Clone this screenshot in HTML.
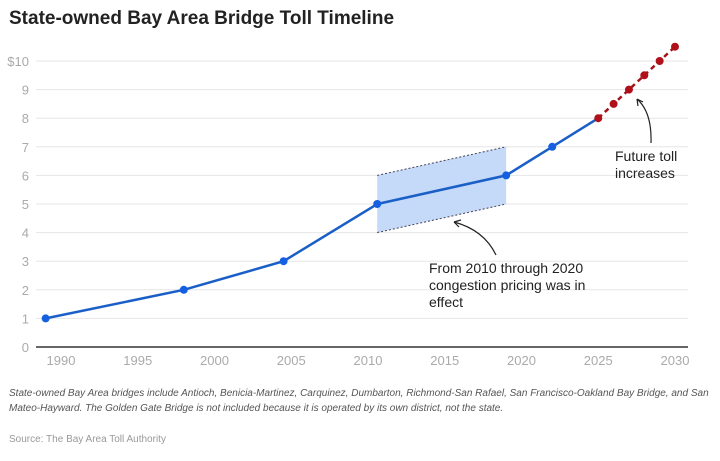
<!DOCTYPE html>
<html><head><meta charset="utf-8"><style>
body{margin:0;background:#fff;font-family:"Liberation Sans",sans-serif}
#wrap{position:relative;width:720px;height:461px;overflow:hidden}
</style></head><body>
<div id="wrap">
<div style="position:absolute;left:9px;top:8px;font-size:19px;font-weight:bold;color:#222">State-owned Bay Area Bridge Toll Timeline</div>
<svg id="chart" width="720" height="461" style="position:absolute;left:0;top:0"></svg>
<div style="position:absolute;left:9px;top:386px;width:700px;font-size:10px;font-style:italic;color:#555;line-height:15px">State-owned Bay Area bridges include Antioch, Benicia-Martinez, Carquinez, Dumbarton, Richmond-San Rafael, San Francisco-Oakland Bay Bridge, and San Mateo-Hayward. The Golden Gate Bridge is not included because it is operated by its own district, not the state.</div>
<div style="position:absolute;left:9px;top:434px;font-size:10px;color:#999">Source: The Bay Area Toll Authority</div>
</div>
<script>
const histYears=[1989,1998,2004.5,2010.6,2019,2022,2025];
const histTolls=[1,2,3,5,6,7,8];
const futYears=[2025,2026,2027,2028,2029,2030];
const futTolls=[8,8.5,9,9.5,10,10.5];
const bandYears=[2010.6,2019];
const bandLow=[4,5];
const bandHigh=[6,7];
const yTicks=[0,1,2,3,4,5,6,7,8,9,10];
const yTickLabels=["0","1","2","3","4","5","6","7","8","9","$10"];
const xTicks=[1990,1995,2000,2005,2010,2015,2020,2025,2030];

const NS="http://www.w3.org/2000/svg";
const svg=document.getElementById('chart');
const X=v=>61+(v-1990)*15.35;
const Y=v=>347-v*28.6;
function mk(t,a){const e=document.createElementNS(NS,t);for(const k in a)e.setAttribute(k,a[k]);svg.appendChild(e);return e;}
yTicks.forEach((t,i)=>{
 if(t>0){const g=mk('line',{x1:36,x2:688,y1:Y(t),y2:Y(t),stroke:'#e6e6e6','stroke-width':1});
 
 }
 const l=mk('text',{x:29,y:Y(t)+5,'text-anchor':'end','font-size':13,fill:'#aaa','font-family':'Liberation Sans'});
 l.textContent=yTickLabels[i];
 
 
});
const ax=mk('line',{x1:36,x2:688,y1:Y(0),y2:Y(0),stroke:'#333','stroke-width':1.5});


xTicks.forEach(t=>{
 const l=mk('text',{x:X(t),y:365,'text-anchor':'middle','font-size':13,fill:'#aaa','font-family':'Liberation Sans'});
 l.textContent=t;
 
 
});
// band
const bp=`M${X(bandYears[0])},${Y(bandHigh[0])} L${X(bandYears[1])},${Y(bandHigh[1])} L${X(bandYears[1])},${Y(bandLow[1])} L${X(bandYears[0])},${Y(bandLow[0])}Z`;
const band=mk('path',{d:bp,fill:'#c5d9f8'});


[[bandHigh,'band-upper-edge'],[bandLow,'band-lower-edge']].forEach(([arr,n])=>{
 const e=mk('line',{x1:X(bandYears[0]),y1:Y(arr[0]),x2:X(bandYears[1]),y2:Y(arr[1]),stroke:'#445','stroke-width':1,'stroke-dasharray':'2,2'});
 
 
});
const hl=mk('polyline',{points:histYears.map((y,i)=>X(y)+','+Y(histTolls[i])).join(' '),fill:'none',stroke:'#1a5fc8','stroke-width':2.5});


const fl=mk('polyline',{points:futYears.map((y,i)=>X(y)+','+Y(futTolls[i])).join(' '),fill:'none',stroke:'#a3141a','stroke-width':2.5,'stroke-dasharray':'5,4'});


histYears.forEach((y,i)=>{if(i===histYears.length-1)return;
 const c=mk('circle',{cx:X(y),cy:Y(histTolls[i]),r:4,fill:'#1560e0'});
 
 
});
futYears.forEach((y,i)=>{
 const c=mk('circle',{cx:X(y),cy:Y(futTolls[i]),r:4,fill:'#b0101a'});
 
 
});
// annotations
function txt(lines,x,y,n){lines.forEach((s,i)=>{const t=mk('text',{x:x,y:y+i*17,'font-size':14,fill:'#222','font-family':'Liberation Sans'});t.textContent=s;
 
 });}
txt(["From 2010 through 2020","congestion pricing was in","effect"],429,273,'congestion-annotation');
txt(["Future toll","increases"],615,161,'future-annotation');
const a1=mk('path',{d:'M496,255 Q484,230 454,222 M454,222 l7,-2 M454,222 l5,5',fill:'none',stroke:'#222','stroke-width':1.2});


const a2=mk('path',{d:'M651,143 Q652,112 637,99 M637,99 l1,7 M637,99 l6,3',fill:'none',stroke:'#222','stroke-width':1.2});


</script>
</body></html>
